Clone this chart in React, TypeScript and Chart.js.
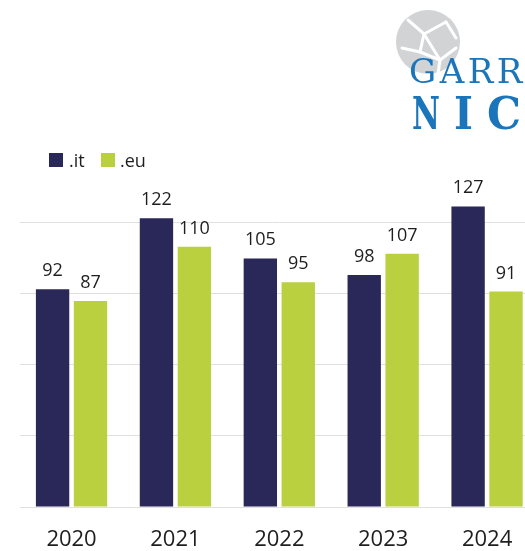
import React, { useEffect, useRef } from "react";
import { Chart, registerables } from "chart.js";

Chart.register(...registerables);

const categories = ["2020", "2021", "2022", "2023", "2024"];
const itValues = [92, 122, 105, 98, 127];
const euValues = [87, 110, 95, 107, 91];
const seriesNames = [".it", ".eu"];
const gridTicks = [0, 30, 60, 90, 120];

const NAVY = "#2a2759";
const LIME = "#bbd03e";
const LOGO_BLUE = "#1a75bb";
const FONT = '"Open Sans", "DejaVu Sans", sans-serif';

const valueLabels = {
  id: "valueLabels",
  afterDatasetsDraw(chart: any) {
    const ctx = chart.ctx;
    ctx.save();
    ctx.font = `18px ${FONT}`;
    ctx.fillStyle = "#1e1e1e";
    ctx.textAlign = "center";
    ctx.textBaseline = "alphabetic";
    chart.data.datasets.forEach((ds: any, i: number) => {
      const meta = chart.getDatasetMeta(i);
      meta.data.forEach((bar: any, j: number) => {
        ctx.fillText(String(ds.data[j]), bar.x, bar.y - 13);
      });
    });
    ctx.restore();
  },
};

const nicLetter = (ch: string, left: number, sx: number) => (
  <span
    key={ch}
    style={{
      position: "absolute",
      left,
      top: 88,
      fontFamily: '"DejaVu Serif", serif',
      fontWeight: "bold",
      fontSize: 45,
      lineHeight: "52px",
      color: LOGO_BLUE,
      transform: `scaleX(${sx})`,
      transformOrigin: "left top",
      whiteSpace: "nowrap",
    }}
  >
    {ch}
  </span>
);

export default function App() {
  const ref = useRef<HTMLCanvasElement>(null);
  useEffect(() => {
    if (!ref.current) return;
    const chart = new Chart(ref.current, {
      type: "bar",
      data: {
        labels: categories,
        datasets: [
          { label: seriesNames[0], data: itValues, backgroundColor: NAVY },
          { label: seriesNames[1], data: euValues, backgroundColor: LIME },
        ],
      },
      options: {
        animation: false,
        responsive: false,
        devicePixelRatio: 1,
        layout: { padding: { left: 19.6, right: 6, top: 199.3, bottom: 0 } },
        datasets: { bar: { categoryPercentage: 0.73, barPercentage: 0.88 } },
        plugins: { legend: { display: false }, tooltip: { enabled: false } },
        scales: {
          x: {
            grid: { display: false, drawTicks: false },
            border: { display: false },
            ticks: { color: "#1e1e1e", font: { family: FONT, size: 22 }, padding: 19.8 },
          },
          y: {
            min: 0,
            max: 130,
            afterBuildTicks: (axis: any) => {
              axis.ticks = gridTicks.map((v) => ({ value: v }));
            },
            grid: { color: "#e0e0e0", lineWidth: 1, drawTicks: false },
            border: { display: false },
            ticks: { display: false },
          },
        },
      },
      plugins: [valueLabels],
    });
    return () => chart.destroy();
  }, []);

  return (
    <div
      style={{
        position: "absolute",
        left: 0,
        top: 0,
        width: 525,
        height: 551,
        overflow: "hidden",
        background: "#fff",
        fontFamily: FONT,
      }}
    >
      <canvas ref={ref} width={545} height={573} style={{ position: "absolute", left: 0, top: 0 }} />
      {/* legend */}
      <div style={{ position: "absolute", left: 49, top: 153, width: 14, height: 14, background: NAVY }} />
      <div style={{ position: "absolute", left: 69, top: 147, fontSize: 18, lineHeight: "26px", color: "#1e1e1e" }}>
        {seriesNames[0]}
      </div>
      <div style={{ position: "absolute", left: 101, top: 153, width: 14, height: 14, background: LIME }} />
      <div style={{ position: "absolute", left: 120, top: 147, fontSize: 18, lineHeight: "26px", color: "#1e1e1e" }}>
        {seriesNames[1]}
      </div>
      {/* logo */}
      <svg style={{ position: "absolute", left: 394, top: 8 }} width={72} height={72} viewBox="0 0 72 72">
        <circle cx={34} cy={34} r={32} fill="#d2d3d5" />
        <g stroke="#fff" strokeWidth={3} fill="none" strokeLinecap="round">
          <path d="M14 12 L30 26 L52 14" />
          <path d="M30 26 L26 44 L8 40" />
          <path d="M26 44 L46 52 L62 40" />
          <path d="M46 52 L44 66" />
          <path d="M30 26 L46 52" />
          <path d="M52 14 L62 30" />
        </g>
      </svg>
      <div
        style={{
          position: "absolute",
          left: 409,
          top: 51,
          fontFamily: '"DejaVu Serif", serif',
          fontSize: 34,
          lineHeight: "40px",
          letterSpacing: 3.5,
          color: LOGO_BLUE,
          whiteSpace: "nowrap",
        }}
      >
        GARR
      </div>
      {nicLetter("N", 412, 0.68)}
      {nicLetter("I", 454, 0.9)}
      {nicLetter("C", 487, 0.95)}
    </div>
  );
}
